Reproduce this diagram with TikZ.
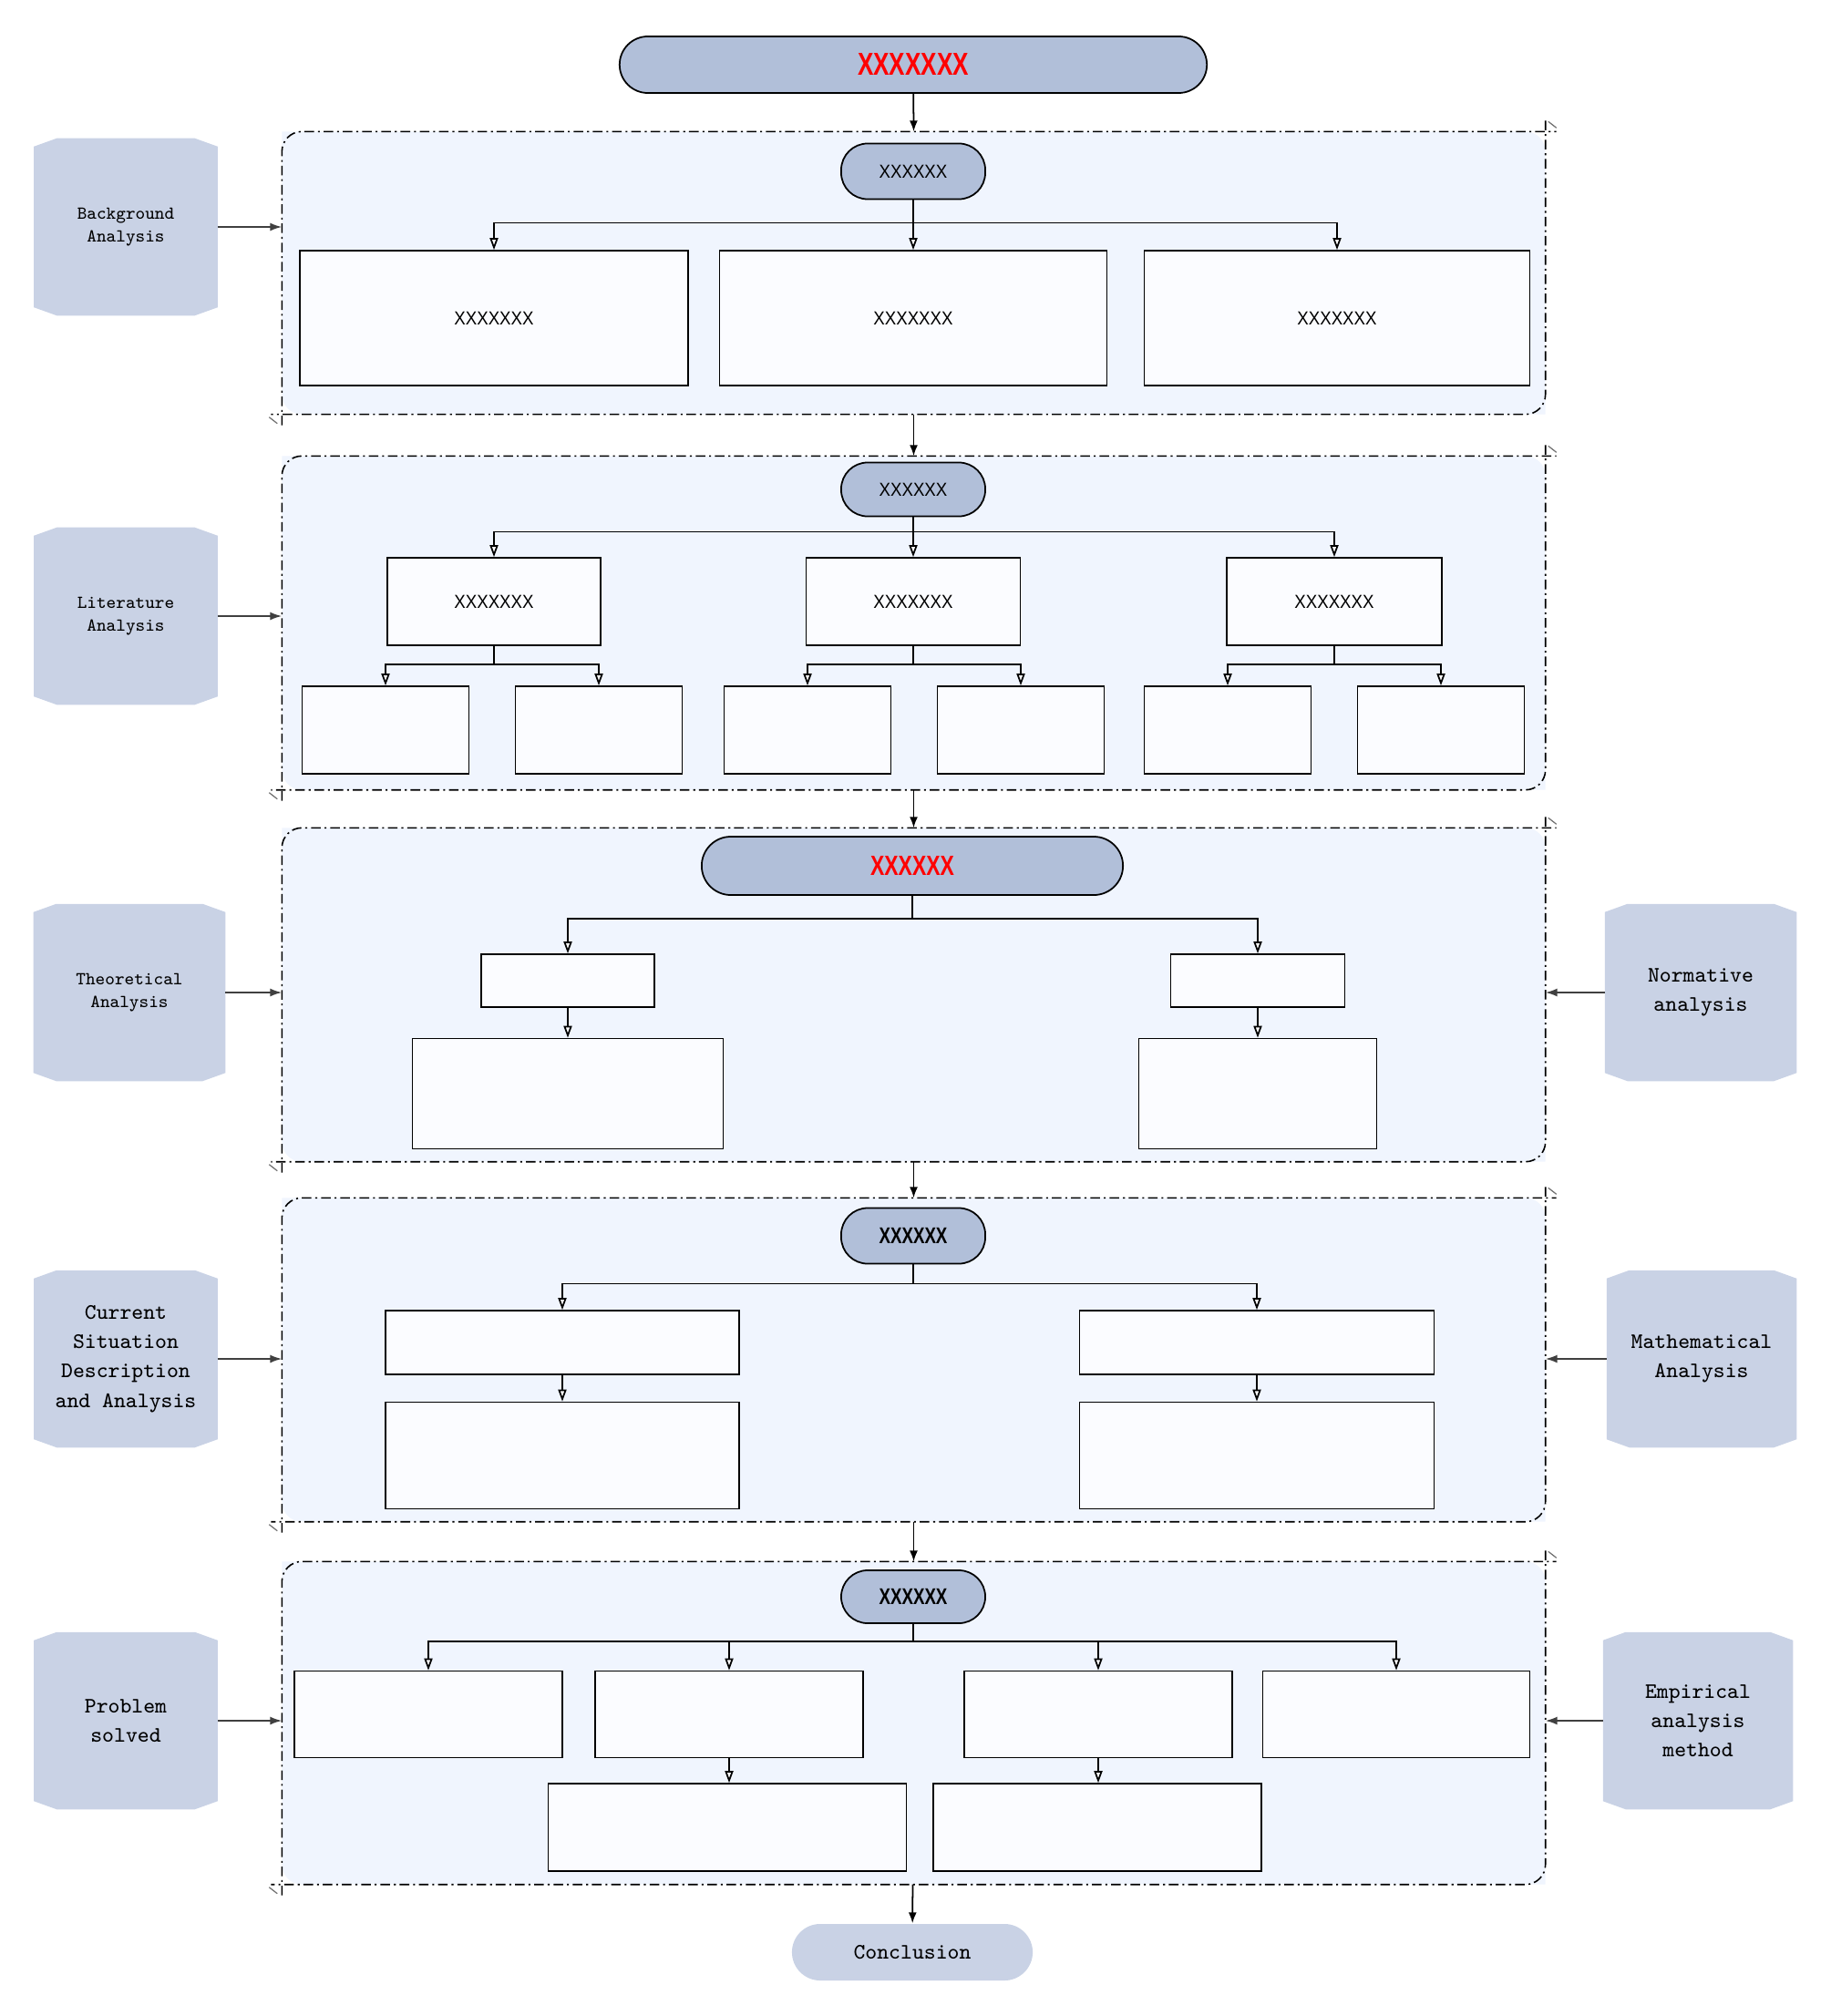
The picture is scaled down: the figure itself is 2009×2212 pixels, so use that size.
\documentclass[tikz,border=0pt]{standalone}
\usepackage{fontspec}
\usetikzlibrary{arrows.meta,fit,backgrounds}

\newfontfamily\boxfont[FakeStretch=0.9]{Liberation Sans}
\newfontfamily\headfont[FakeStretch=0.75]{Liberation Sans}

% cornice tratteggiata di un blocco (angoli arrotondati in alto a sx e in basso a dx)
\newcommand{\panelframe}[1]{%
  \fill[colPanel] (#1.south west) -- (#1.north west) [rounded corners=0.22cm] -- (#1.north east) [sharp corners] -- (#1.south east) [rounded corners=0.22cm] -- (#1.south west) [sharp corners] -- cycle;
  \draw[panelLine, rounded corners=0.22cm] ([yshift=-0.12cm]#1.south west) |- ([xshift=0.12cm]#1.north east);
  \draw[panelLine, rounded corners=0.22cm] ([yshift=0.12cm]#1.north east) |- ([xshift=-0.12cm]#1.south west);
  \draw[tickLine] ([shift={(0.03cm,0.11cm)}]#1.north east) -- ++(9,7);
  \draw[tickLine] ([shift={(-0.14cm,-0.03cm)}]#1.south west) -- ++(9,7);
}

% sagoma smussata dietro un riquadro laterale
\newcommand{\sideshape}[1]{%
  \begin{scope}[on background layer]
  \fill[colSide] ([yshift=-0.09cm]#1.north west) -- ([xshift=0.25cm]#1.north west) -- ([xshift=-0.25cm]#1.north east) -- ([yshift=-0.09cm]#1.north east)
    -- ([yshift=0.09cm]#1.south east) -- ([xshift=-0.25cm]#1.south east) -- ([xshift=0.25cm]#1.south west) -- ([yshift=0.09cm]#1.south west) -- cycle;
  \end{scope}}

\begin{document}
\begin{tikzpicture}[x=0.01cm, y=-0.01cm,
  pill/.style={draw=black, line width=0.5pt, fill=colPill, rounded corners=0.29cm, minimum width=1.58cm, minimum height=0.61cm, inner sep=0pt, font=\boxfont\fontsize{5.9}{7}\selectfont},
  redText/.style={text=red, font=\headfont\bfseries\fontsize{9.9}{11}\selectfont},
  box/.style={draw=black, line width=0.45pt, fill=colBox, inner sep=0pt, font=\boxfont\fontsize{5.9}{7}\selectfont},
  side/.style={minimum width=2cm, minimum height=1.93cm, inner sep=0pt, align=center, font=\ttfamily\fontsize{6.9}{9.2}\selectfont},
  sideSmall/.style={side, font=\ttfamily\fontsize{5.7}{7.3}\selectfont},
  panel/.style={inner sep=0pt, draw=none},
  panelLine/.style={line width=0.45pt, dash pattern=on 3pt off 1.2pt on 0.6pt off 1.2pt},
  tickLine/.style={line width=0.35pt, draw=lineGray},
  mainArrow/.style={-{Latex[length=1.2mm,width=0.9mm]}, line width=0.5pt},
  openArrow/.style={-{Triangle[length=1.3mm,width=0.9mm,fill=white]}, line width=0.5pt},
  sideArrow/.style={-{Latex[length=1.3mm,width=0.9mm]}, draw=lineDark, line width=0.5pt}
]

% Colori
\definecolor{colPill}{HTML}{B1BFD9}
\definecolor{colSide}{HTML}{C9D2E5}
\definecolor{colPanel}{HTML}{F0F5FE}
\definecolor{colBox}{HTML}{FBFCFF}
\definecolor{lineDark}{HTML}{404040}
\definecolor{lineGray}{HTML}{707070}

\useasboundingbox (0,0) rectangle (2009,2212);

% Blocchi
\node[panel, fit={(310,145) (1695,454)}] (p1) {};
\node[panel, fit={(310,501) (1695,866)}] (p2) {};
\node[panel, fit={(310,909) (1695,1274)}] (p3) {};
\node[panel, fit={(310,1315) (1695,1669)}] (p4) {};
\node[panel, fit={(310,1714) (1695,2067)}] (p5) {};
\panelframe{p1}
\panelframe{p2}
\panelframe{p3}
\panelframe{p4}
\panelframe{p5}

% Titolo e conclusione
\node[pill, minimum width=6.44cm, minimum height=0.62cm, rounded corners=0.31cm, redText] (title) at (1002,71) {XXXXXXX};
\node[fill=colSide, rounded corners=0.31cm, minimum width=2.64cm, minimum height=0.62cm, inner sep=0pt, font=\ttfamily\fontsize{6.9}{9.2}\selectfont] (concl) at (1001,2142) {Conclusion};

\draw[mainArrow] (title) -- (p1.north);
\draw[mainArrow] (p1) -- (p2);
\draw[mainArrow] (p2) -- (p3);
\draw[mainArrow] (p3) -- (p4);
\draw[mainArrow] (p4) -- (p5);
\draw[mainArrow] (p5) -- (concl);

% Riquadri laterali
\node[sideSmall] (bgA) at (138,249) {Background\\Analysis};
\node[sideSmall] (litA) at (138,676) {Literature\\Analysis};
\node[sideSmall, minimum width=2.09cm] (theoA) at (142,1089) {Theoretical\\Analysis};
\node[side, minimum width=2.09cm] (normA) at (1866,1089) {Normative\\analysis};
\node[side] (curA) at (138,1491) {Current\\Situation\\Description\\and Analysis};
\node[side, minimum width=2.07cm] (mathA) at (1867,1491) {Mathematical\\Analysis};
\node[side] (probA) at (138,1888) {Problem\\solved};
\node[side, minimum width=2.07cm] (empA) at (1863,1888) {Empirical\\analysis\\method};
\foreach \s in {bgA,litA,theoA,normA,curA,mathA,probA,empA} {\sideshape{\s}}

\draw[sideArrow] (bgA) -- (bgA -| p1.west);
\draw[sideArrow] (litA) -- (litA -| p2.west);
\draw[sideArrow] (theoA) -- (theoA -| p3.west);
\draw[sideArrow] (normA) -- (normA -| p3.east);
\draw[sideArrow] (curA) -- (curA -| p4.west);
\draw[sideArrow] (mathA) -- (mathA -| p4.east);
\draw[sideArrow] (probA) -- (probA -| p5.west);
\draw[sideArrow] (empA) -- (empA -| p5.east);

% Blocco 1
\node[pill] (pill1) at (1002,188) {XXXXXX};
\node[box, minimum width=4.26cm, minimum height=1.48cm] (b11) at (542,349) {XXXXXXX};
\node[box, minimum width=4.25cm, minimum height=1.48cm] (b12) at (1002,349) {XXXXXXX};
\node[box, minimum width=4.23cm, minimum height=1.48cm] (b13) at (1467,349) {XXXXXXX};
\foreach \b in {b11,b12,b13} {\draw[openArrow] (pill1.south) -- ++(0,25) -| (\b);}

% Blocco 2
\node[pill, minimum height=0.59cm] (pill2) at (1002,537) {XXXXXX};
\node[box, minimum width=2.34cm, minimum height=0.96cm] (m21) at (542,660) {XXXXXXX};
\node[box, minimum width=2.35cm, minimum height=0.96cm] (m22) at (1002,660) {XXXXXXX};
\node[box, minimum width=2.36cm, minimum height=0.96cm] (m23) at (1464,660) {XXXXXXX};
\foreach \b in {m21,m22,m23} {\draw[openArrow] (pill2.south) -- ++(0,16) -| (\b);}
\foreach \m/\x/\y in {m21/423/657,m22/886/1120,m23/1347/1581} {
  \node[box, minimum width=1.83cm, minimum height=0.96cm] (\m a) at (\x,801) {};
  \node[box, minimum width=1.83cm, minimum height=0.96cm] (\m b) at (\y,801) {};
  \draw[openArrow] (\m.south) -- ++(0,20) -| (\m a);
  \draw[openArrow] (\m.south) -- ++(0,20) -| (\m b);
}

% Blocco 3
\node[pill, minimum width=4.62cm, minimum height=0.64cm, rounded corners=0.32cm, redText, font=\headfont\bfseries\fontsize{8.7}{10}\selectfont] (pill3) at (1001,950) {XXXXXX};
\node[box, minimum width=1.90cm, minimum height=0.58cm] (t1) at (623,1076) {};
\node[box, minimum width=1.91cm, minimum height=0.58cm] (t2) at (1380,1076) {};
\node[box, minimum width=3.41cm, minimum height=1.21cm] (T1) at (623,1200) {};
\node[box, minimum width=2.61cm, minimum height=1.21cm] (T2) at (1380,1200) {};
\draw[openArrow] (pill3.south) -- ++(0,25) -| (t1);
\draw[openArrow] (pill3.south) -- ++(0,25) -| (t2);
\draw[openArrow] (t1) -- (T1);
\draw[openArrow] (t2) -- (T2);

% Blocco 4
\node[pill, font=\headfont\bfseries\fontsize{7.1}{8}\selectfont] (pill4) at (1002,1356) {XXXXXX};
\node[box, minimum width=3.88cm, minimum height=0.70cm] (c1) at (617,1473) {};
\node[box, minimum width=3.89cm, minimum height=0.70cm] (c2) at (1379,1473) {};
\node[box, minimum width=3.88cm, minimum height=1.17cm] (C1) at (617,1597) {};
\node[box, minimum width=3.89cm, minimum height=1.17cm] (C2) at (1379,1597) {};
\draw[openArrow] (pill4.south) -- ++(0,21) -| (c1);
\draw[openArrow] (pill4.south) -- ++(0,21) -| (c2);
\draw[openArrow] (c1) -- (C1);
\draw[openArrow] (c2) -- (C2);

% Blocco 5
\node[pill, minimum height=0.58cm, font=\headfont\bfseries\fontsize{7.1}{8}\selectfont] (pill5) at (1002,1752) {XXXXXX};
\node[box, minimum width=2.94cm, minimum height=0.95cm] (e1) at (470,1881) {};
\node[box, minimum width=2.94cm, minimum height=0.95cm] (e2) at (800,1881) {};
\node[box, minimum width=2.94cm, minimum height=0.95cm] (e3) at (1205,1881) {};
\node[box, minimum width=2.93cm, minimum height=0.95cm] (e4) at (1532,1881) {};
\node[box, minimum width=3.93cm, minimum height=0.96cm] (E1) at (798,2005) {};
\node[box, minimum width=3.60cm, minimum height=0.96cm] (E2) at (1204,2005) {};
\foreach \b in {e1,e2,e3,e4} {\draw[openArrow] (pill5.south) -- ++(0,19) -| (\b);}
\draw[openArrow] (e2) -- (e2 |- E1.north);
\draw[openArrow] (e3) -- (e3 |- E2.north);
\end{tikzpicture}
\end{document}
